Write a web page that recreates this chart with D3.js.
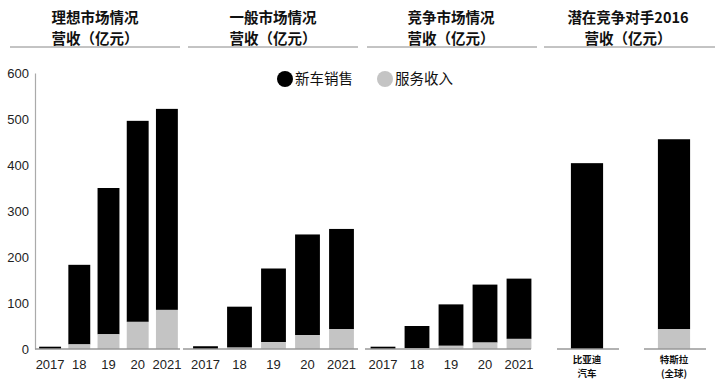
<!DOCTYPE html>
<html>
<head>
<meta charset="utf-8">
<script src="https://cdn.jsdelivr.net/npm/d3@7"></script>
<style>
  body { margin: 0; background: #fff; }
  svg { display: block; font-family: "Liberation Sans", Arial, sans-serif; }
  .cjk { font-family: "Noto Sans CJK SC", sans-serif; }
</style>
</head>
<body>
<script>
const width = 720, height = 379;

// data
const years = ["2017", "18", "19", "20", "2021"];
const lixiangCar = [5, 173, 318, 437, 437];
const lixiangService = [0, 10, 32, 59, 85];
const generalCar = [6, 89, 160, 219, 218];
const generalService = [0, 3, 15, 30, 43];
const competeCar = [5, 48, 90, 126, 131];
const competeService = [0, 2, 7, 14, 22];
const rivals = ["比亚迪\n汽车", "特斯拉\n(全球)"];
const rivalCar = [404, 413];
const rivalService = [0, 43];
const yTicks = [0, 100, 200, 300, 400, 500, 600];

const titles = [
  ["理想市场情况", "营收（亿元）"],
  ["一般市场情况", "营收（亿元）"],
  ["竞争市场情况", "营收（亿元）"],
  ["潜在竞争对手2016", "营收（亿元）"]
];
const legendItems = ["新车销售", "服务收入"];

const black = "#000", grey = "#c4c4c4";

const svg = d3.select("body").append("svg")
  .attr("width", width)
  .attr("height", height);

const y = d3.scaleLinear().domain([0, 600]).range([349, 73]);

// titles (one text each, wrapped with tspans)
const titleSpans = [[10, 180], [188, 358], [367, 537], [544, 715]];
const titleCenters = [95, 273, 451, 628];
titles.forEach((t, i) => {
  const g = svg.append("g");
  const txt = g.append("text")
    .attr("class", "cjk")
    .attr("text-anchor", "middle")
    .attr("font-size", 14.5)
    .attr("font-weight", "bold")
    .attr("fill", "#111");
  t.forEach((line, j) => {
    txt.append("tspan")
      .attr("x", titleCenters[i])
      .attr("y", 23 + j * 21.2)
      .text(line);
  });
  g.append("line")
    .attr("x1", titleSpans[i][0]).attr("x2", titleSpans[i][1])
    .attr("y1", 47).attr("y2", 47)
    .attr("stroke", "#888").attr("stroke-width", 1);
});

// y axis
const yAxis = svg.append("g")
  .attr("transform", "translate(35,0)")
  .call(d3.axisLeft(y).tickValues(yTicks).tickSize(0).tickPadding(6));
yAxis.select(".domain").attr("stroke", "#aaa").attr("stroke-width", 1.2);
yAxis.selectAll("text").attr("font-size", 13).attr("fill", "#222")
  .attr("font-family", "Liberation Sans, Arial, sans-serif");

// year panels
const panels = [
  {car: lixiangCar, service: lixiangService, range: [35.5, 181.5], pad: 0.25, base: [35, 180]},
  {car: generalCar, service: generalService, range: [188.5, 358.5], pad: 0.27, base: [183, 358]},
  {car: competeCar, service: competeService, range: [366, 536], pad: 0.27, base: [365, 531]}
];

function drawBars(g, x, cats, car, service) {
  const stacked = cats.map((c, i) => ({c, s: service[i], t: service[i] + car[i]}));
  g.selectAll("rect.car").data(stacked).join("rect")
    .attr("class", "car")
    .attr("x", d => x(d.c))
    .attr("width", x.bandwidth())
    .attr("y", d => y(d.t))
    .attr("height", d => y(d.s) - y(d.t))
    .attr("fill", black);
  g.selectAll("rect.svc").data(stacked.filter(d => d.s > 0)).join("rect")
    .attr("class", "svc")
    .attr("x", d => x(d.c))
    .attr("width", x.bandwidth())
    .attr("y", d => y(d.s))
    .attr("height", d => y(0) - y(d.s))
    .attr("fill", grey);
}

panels.forEach(p => {
  const x = d3.scaleBand().domain(years).range(p.range)
    .paddingInner(p.pad).paddingOuter(p.pad / 2);
  const g = svg.append("g");
  drawBars(g, x, years, p.car, p.service);
  g.append("line")
    .attr("x1", p.base[0]).attr("x2", p.base[1])
    .attr("y1", y(0)).attr("y2", y(0))
    .attr("stroke", "#999").attr("stroke-width", 1.5);
  g.selectAll("text.yr").data(years).join("text")
    .attr("class", "yr")
    .attr("x", d => x(d) + x.bandwidth() / 2)
    .attr("y", 369)
    .attr("text-anchor", "middle")
    .attr("font-size", 13)
    .attr("fill", "#222")
    .text(d => d);
});

// rivals panel
const xr = d3.scaleBand().domain(rivals).range([543.5, 717.5])
  .paddingInner(0.63).paddingOuter(0.315);
const gr = svg.append("g");
drawBars(gr, xr, rivals, rivalCar, rivalService);
gr.selectAll("line.base").data(rivals).join("line")
  .attr("class", "base")
  .attr("x1", d => xr(d) + xr.bandwidth() / 2 - 30)
  .attr("x2", d => xr(d) + xr.bandwidth() / 2 + 32)
  .attr("y1", y(0)).attr("y2", y(0))
  .attr("stroke", "#999").attr("stroke-width", 1.5);
rivals.forEach(r => {
  const txt = gr.append("text")
    .attr("class", "cjk")
    .attr("text-anchor", "middle")
    .attr("font-size", 9.5)
    .attr("font-weight", "bold")
    .attr("fill", "#111");
  r.split("\n").forEach((line, j) => {
    txt.append("tspan")
      .attr("x", xr(r) + xr.bandwidth() / 2)
      .attr("y", 363 + j * 14)
      .text(line);
  });
});

// legend
const legendX = [285, 385];
const legend = svg.append("g");
legendItems.forEach((name, i) => {
  legend.append("circle")
    .attr("cx", legendX[i]).attr("cy", 79).attr("r", 8)
    .attr("fill", i === 0 ? black : grey);
  legend.append("text")
    .attr("class", "cjk")
    .attr("x", legendX[i] + 10)
    .attr("y", 84)
    .attr("font-size", 14.5)
    .attr("fill", "#111")
    .text(name);
});
</script>
</body>
</html>
